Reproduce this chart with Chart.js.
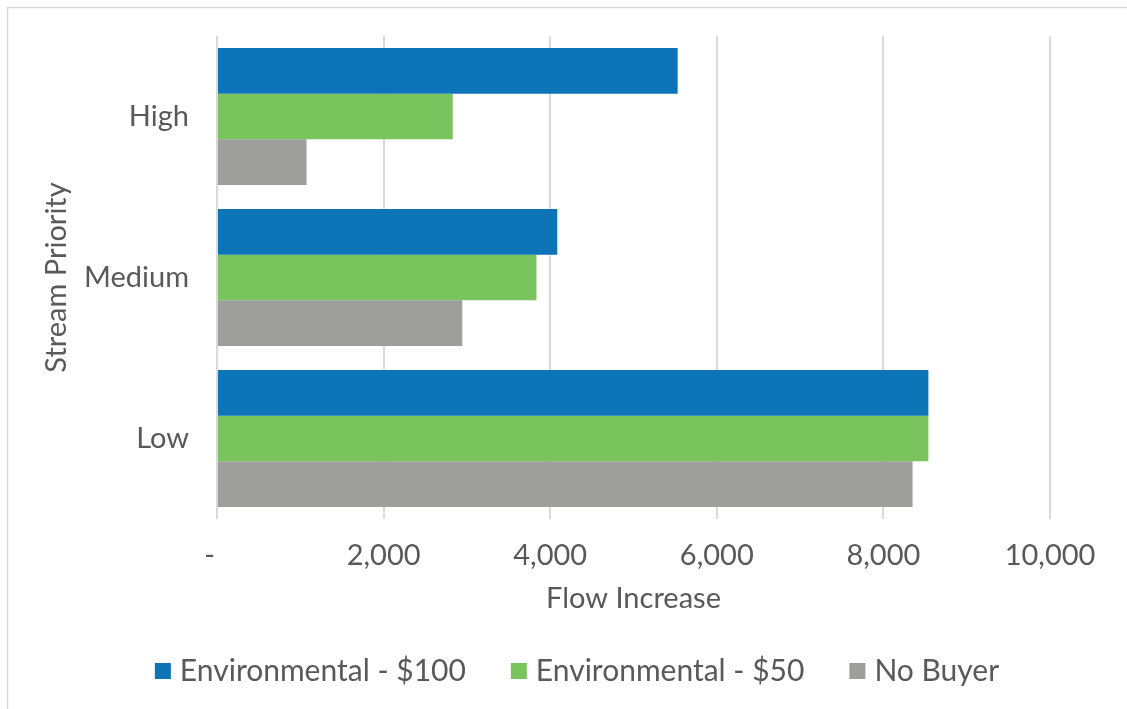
<!DOCTYPE html>
<html>
<head>
<meta charset="utf-8">
<script src="https://cdn.jsdelivr.net/npm/chart.js@4/dist/chart.umd.min.js"></script>
<style>
  html, body { margin: 0; padding: 0; background: #ffffff; }
  #wrap { position: relative; width: 1127px; height: 709px; overflow: hidden; }
  canvas { display: block; }
</style>
</head>
<body>
<div id="wrap"><canvas id="chart" width="1127" height="709"></canvas></div>
<script>
// Flow increase by stream priority, per buyer scenario
const categories = ['High', 'Medium', 'Low'];
const seriesNames = ['Environmental - $100', 'Environmental - $50', 'No Buyer'];
const env100 = [5530, 4085, 8540];
const env50 = [2830, 3835, 8540];
const noBuyer = [1075, 2945, 8350];
const xTicks = [0, 2000, 4000, 6000, 8000, 10000];

const FONT = 'Lato, "Open Sans", sans-serif';
const TEXT = '#595959';
const GRID = '#d9d9d9';

// Thin frame along the top and left of the chart
const framePlugin = {
  id: 'frame',
  beforeDraw(chart) {
    const ctx = chart.ctx;
    ctx.save();
    ctx.fillStyle = '#ffffff';
    ctx.fillRect(0, 0, chart.width, chart.height);
    ctx.strokeStyle = GRID;
    ctx.lineWidth = 1.5;
    ctx.beginPath();
    ctx.moveTo(7.5, chart.height);
    ctx.lineTo(7.5, 7.5);
    ctx.lineTo(chart.width, 7.5);
    ctx.stroke();
    ctx.restore();
  }
};

// Single-row legend with square swatches close to their labels
const rowLegend = {
  id: 'rowLegend',
  afterDraw(chart, args, opts) {
    const ctx = chart.ctx;
    ctx.save();
    ctx.font = opts.fontSize + 'px ' + FONT;
    ctx.textBaseline = 'middle';
    ctx.textAlign = 'left';
    const items = chart.data.datasets.map(ds => {
      const w = ctx.measureText(ds.label).width;
      return { label: ds.label, color: ds.backgroundColor, w: opts.box + opts.gap + w };
    });
    const total = items.reduce((s, it) => s + it.w, 0) + opts.spacing * (items.length - 1);
    let x = opts.centerX - total / 2;
    const y = chart.height - opts.fromBottom;
    items.forEach(it => {
      ctx.fillStyle = it.color;
      ctx.fillRect(x, y - opts.box / 2, opts.box, opts.box);
      ctx.fillStyle = TEXT;
      ctx.fillText(it.label, x + opts.box + opts.gap, y);
      x += it.w + opts.spacing;
    });
    ctx.restore();
  }
};

const ctx = document.getElementById('chart').getContext('2d');
new Chart(ctx, {
  type: 'bar',
  data: {
    labels: categories,
    datasets: [
      { label: seriesNames[0], data: env100, backgroundColor: '#0e74b8' },
      { label: seriesNames[1], data: env50, backgroundColor: '#79c45d' },
      { label: seriesNames[2], data: noBuyer, backgroundColor: '#9e9e9d' }
    ]
  },
  options: {
    indexAxis: 'y',
    responsive: false,
    animation: false,
    datasets: {
      bar: { categoryPercentage: 0.85, barPercentage: 1.0 }
    },
    layout: { padding: { left: 0, right: 77, top: 36, bottom: 80 } },
    plugins: {
      legend: { display: false },
      tooltip: { enabled: false },
      rowLegend: { fontSize: 30, box: 16, gap: 9, spacing: 45, centerX: 577, fromBottom: 38 }
    },
    scales: {
      x: {
        type: 'linear',
        min: 0,
        max: 10000,
        afterBuildTicks(scale) {
          scale.ticks = xTicks.map(v => ({ value: v }));
        },
        ticks: {
          color: TEXT,
          font: { family: FONT, size: 29 },
          padding: 19,
          maxRotation: 0,
          callback: v => (v === 0 ? '-  ' : v.toLocaleString('en-US'))
        },
        grid: { color: GRID, lineWidth: 2, drawTicks: false },
        border: { display: false },
        title: {
          display: true,
          text: 'Flow Increase',
          color: TEXT,
          font: { family: FONT, size: 29 },
          padding: { top: 0, bottom: 13 }
        },
        afterFit(scale) { scale.height = 110; }
      },
      y: {
        ticks: {
          color: TEXT,
          font: { family: FONT, size: 29 },
          padding: 28
        },
        grid: { display: false, drawTicks: false },
        border: { display: false },
        title: {
          display: true,
          text: 'Stream Priority',
          color: TEXT,
          font: { family: FONT, size: 29 },
          padding: { top: 39, bottom: 0 }
        },
        afterFit(scale) {
          scale.width = 217;
          scale.paddingTop = 0;
          scale.paddingBottom = 0;
        }
      }
    }
  },
  plugins: [framePlugin, rowLegend]
});
</script>
</body>
</html>
